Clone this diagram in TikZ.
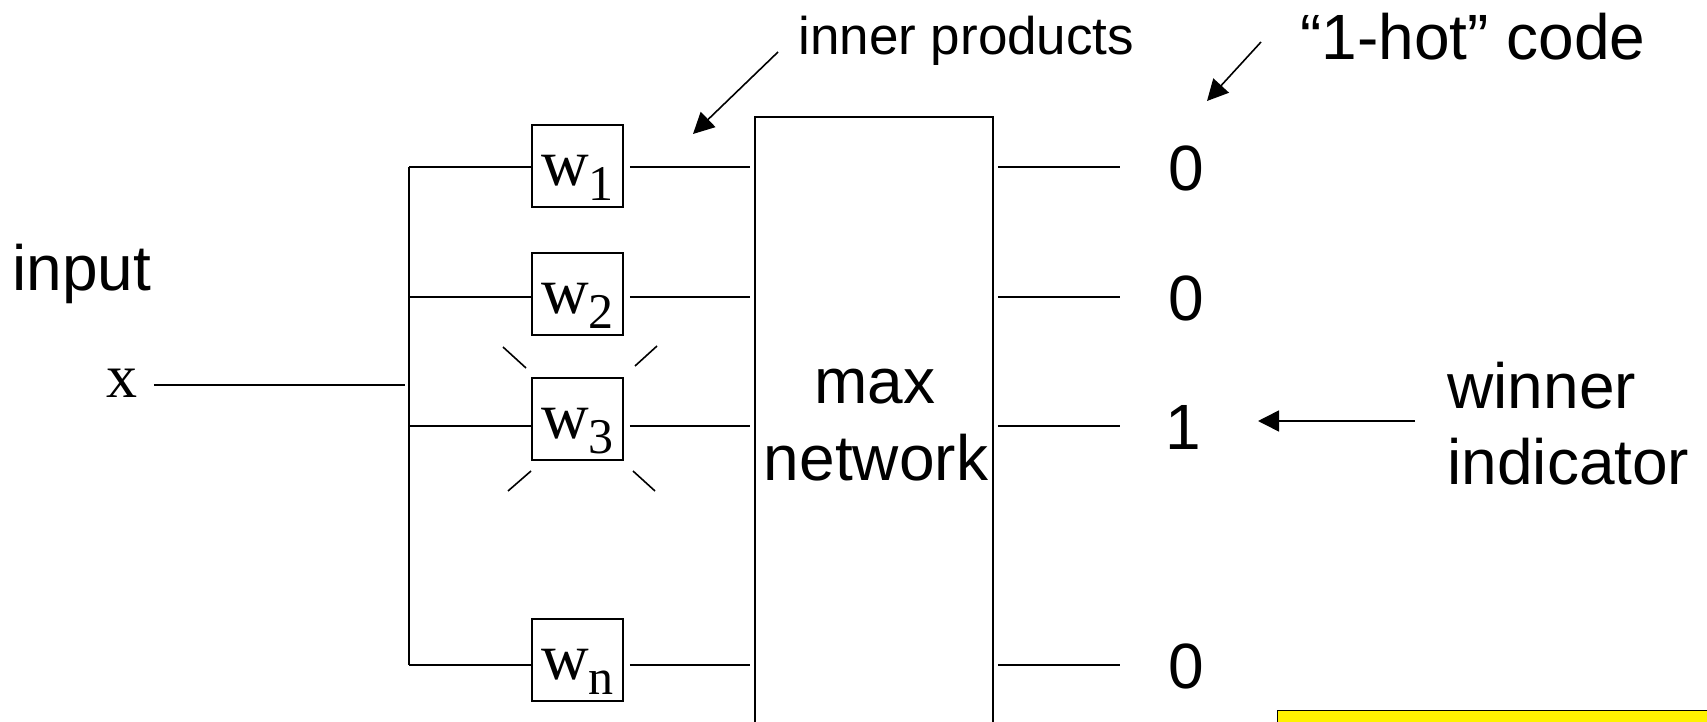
\documentclass[tikz,border=0pt]{standalone}
\usepackage{fontspec}
\setmainfont{Liberation Sans}
\newfontfamily\timesf{Liberation Serif}
\usetikzlibrary{arrows.meta}
\newcommand{\wlab}[1]{w\raisebox{-7.5pt}{\fontsize{25}{25}\selectfont #1}}
\begin{document}
\begin{tikzpicture}[x=0.5pt,y=-0.5pt,
  wire/.style={line width=0.8pt},
  wbox/.style={draw,line width=0.9pt,minimum width=45.5pt,inner sep=0pt,
    text height=30.5pt,text depth=10.5pt,anchor=north,
    font=\timesf\fontsize{33}{33}\selectfont},
  big/.style={font=\fontsize{32}{38}\selectfont,inner sep=0pt},
  arr/.style={line width=0.8pt,-{Triangle[length=10.5pt,width=10.5pt]}},
  burst/.style={line width=0.8pt}]
\useasboundingbox (0,0) rectangle (1707,722);

% weight boxes
\node[wbox] (w1) at (577.5,124) {\wlab{1}};
\node[wbox] (w2) at (577.5,252) {\wlab{2}};
\node[wbox] (w3) at (577.5,377) {\wlab{3}};
\node[wbox] (wn) at (577.5,618) {\wlab{n}};

% max network box
\node[draw,line width=0.8pt,minimum width=119pt,minimum height=350pt,
  anchor=north,inner sep=0pt] (mx) at (874,116) {};
\node[big,anchor=base] (tmax) at (875,403) {max};
\node[big,anchor=base] (tnet) at (876,480) {network};

% input
\node[big,anchor=base west] (inp) at (12,290) {input};
\node[font=\timesf\fontsize{31}{31}\selectfont,inner sep=0pt,anchor=base] (x) at (122,397) {x};

% bus coordinates
\coordinate (b1) at (409,167);
\coordinate (b2) at (409,297);
\coordinate (b3) at (409,426);
\coordinate (bn) at (409,665);
\coordinate (bx) at (409,385);

\draw[wire] (b1) -- (bn);
\draw[wire,shorten <=8pt,shorten >=2pt] (x.east |- bx) -- (bx);

% outputs
\node[big,anchor=base] (o1) at (1186,190) {0};
\node[big,anchor=base] (o2) at (1186,320) {0};
\node[big,anchor=base] (o3) at (1183,449) {1};
\node[big,anchor=base] (on) at (1186,688) {0};

\foreach \b/\w/\o in {b1/w1/o1,b2/w2/o2,b3/w3/o3,bn/wn/on}{
  \draw[wire] (\b) -- (\b -| \w.west);
  \draw[wire,shorten <=3pt,shorten >=2pt] (\b -| \w.east) -- (\b -| mx.west);
  \draw[wire,shorten <=2pt] (\b -| mx.east) -- (\b -| 1120,0);
}

% burst around w3
\draw[burst] (503,347) -- (526,368);
\draw[burst] (657,346) -- (635,366);
\draw[burst] (531,471) -- (508,491);
\draw[burst] (633,471) -- (655,491);

% labels and arrows
\node[font=\fontsize{26.5}{26.5}\selectfont,inner sep=0pt,anchor=base west] (ip) at (798,55) {inner products};
\node[big,anchor=base west] (hot) at (1300,60) {“1-hot” code};
\node[big,anchor=base west] (win) at (1447,408) {winner};
\node[big,anchor=base west] (ind) at (1447,484) {indicator};

\coordinate (ipt) at (778,52);
\coordinate (iph) at (693,134);
\draw[arr] (ipt) -- (iph);
\coordinate (hott) at (1261,42);
\coordinate (hoth) at (1207,101);
\draw[arr] (hott) -- (hoth);
\coordinate (wint) at (1415,421);
\coordinate (winh) at (1258,421);
\draw[arr] (wint) -- (winh);

% yellow box
\node[draw,fill=yellow,line width=0.6pt,anchor=north west,minimum width=250pt,
  minimum height=40pt,inner sep=0pt] (yb) at (1277,710) {};
\end{tikzpicture}
\end{document}
